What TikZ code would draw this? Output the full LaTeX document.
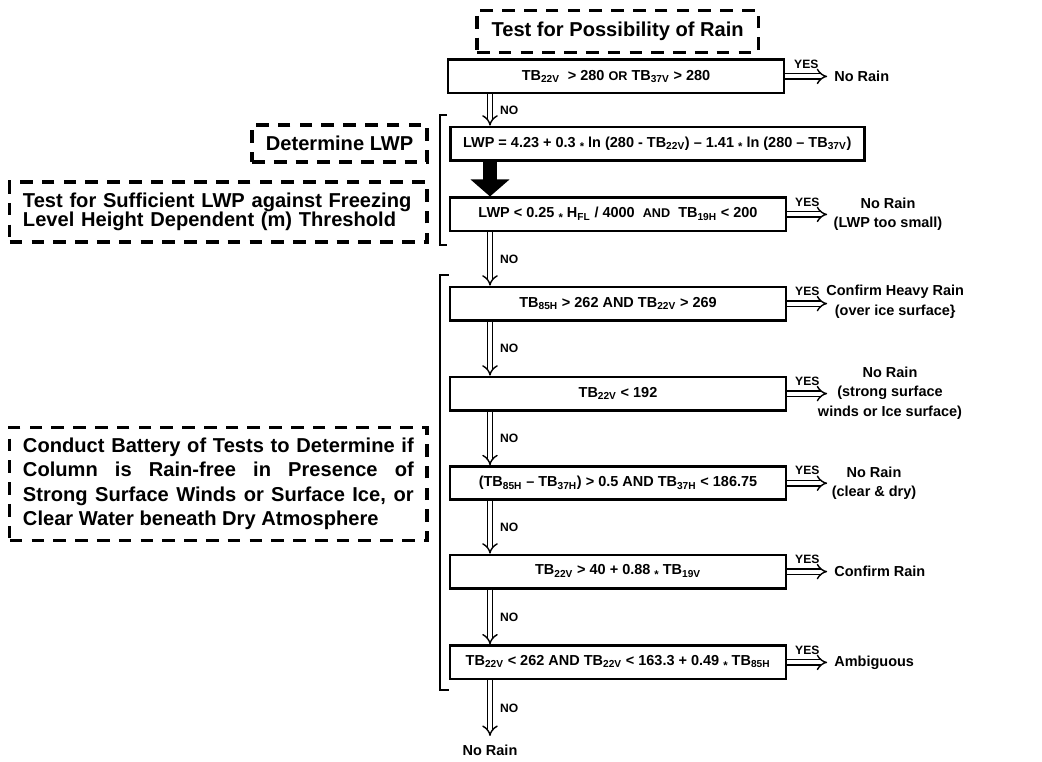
\documentclass[tikz,border=0pt]{standalone}
\usepackage{fontspec}
\setmainfont{Liberation Sans}
\usetikzlibrary{arrows.meta}
\newcommand{\mstar}{\raisebox{-0.45ex}{\footnotesize *}}

\begin{document}
\begin{tikzpicture}[font=\bfseries\fontsize{10.3}{14}\selectfont]
    \useasboundingbox (0,0) rectangle (26.05,-19.025);
    \coordinate (col) at (12.25,0);
    \coordinate (yes) at (20.68,0);

    % dashed captions
    \begin{scope}[every node/.style={draw,line width=2.3pt,dash pattern=on 9pt off 6.5pt,
        font=\bfseries\fontsize{14.3}{14}\selectfont}]
      \node[minimum width=7.03cm,minimum height=1.05cm] (title) at (15.44,-0.78) {Test for Possibility of Rain};
      \node[minimum width=4.375cm,minimum height=0.925cm] (detlwp) at (8.49,-3.59) {Determine LWP};
      \node[text width=9.77cm,inner xsep=0.33cm,minimum height=1.5cm,align=left] (suff) at (5.46,-5.3)
        {Test for Sufficient LWP against Freezing\\ Level Height Dependent (m) Threshold};
      \node[text width=9.77cm,inner xsep=0.33cm,minimum height=2.83cm,align=justify,
        font=\bfseries\fontsize{14.3}{17.4}\selectfont] (battery) at (5.46,-12.1)
        {Conduct Battery of Tests to Determine if\linebreak Column is Rain-free in Presence of\linebreak
         Strong Surface Winds or Surface Ice, or\linebreak Clear Water beneath Dry Atmosphere};
    \end{scope}

    % tests
    \begin{scope}[every node/.style={draw,line width=1.9pt,minimum width=8.4cm,minimum height=0.83cm}]
      \node (b1) at (15.4,-1.91) {TB\textsubscript{22V}\ \ > 280 {\small OR} TB\textsubscript{37V} > 280};
      \node[minimum width=10.35cm] (b2) at (16.43,-3.59)
        {LWP = 4.23 + 0.3 \mstar{} ln (280 - TB\textsubscript{22V}) -- 1.41 \mstar{} ln (280 -- TB\textsubscript{37V})};
      \node (b3) at (15.45,-5.36) {LWP < 0.25 \mstar{} H\textsubscript{FL} / 4000\ \ {\small AND}\ \ TB\textsubscript{19H} < 200};
      \node (b4) at (15.45,-7.59) {TB\textsubscript{85H} > 262 AND TB\textsubscript{22V} > 269};
      \node (b5) at (15.45,-9.84) {TB\textsubscript{22V} < 192};
      \node (b6) at (15.45,-12.08) {(TB\textsubscript{85H} -- TB\textsubscript{37H}) > 0.5 AND TB\textsubscript{37H} < 186.75};
      \node (b7) at (15.45,-14.29) {TB\textsubscript{22V} > 40 + 0.88 \mstar{} TB\textsubscript{19V}};
      \node (b8) at (15.45,-16.56) {TB\textsubscript{22V} < 262 AND TB\textsubscript{22V} < 163.3 + 0.49 \mstar{} TB\textsubscript{85H}};
    \end{scope}

    % outcomes
    \begin{scope}[every node/.style={align=center,inner sep=1.5pt}]
      \node[anchor=west] (r1) at (20.8,-1.91) {No Rain};
      \node (r3) at (22.2,-5.36) {No Rain\\(LWP too small)};
      \node (r4) at (22.38,-7.55) {Confirm Heavy Rain\\(over ice surface\}};
      \node (r5) at (22.25,-9.83) {No Rain\\(strong surface\\winds or Ice surface)};
      \node (r6) at (21.85,-12.08) {No Rain\\(clear \& dry)};
      \node[anchor=west] (r7) at (20.8,-14.29) {Confirm Rain};
      \node[anchor=west] (r8) at (20.8,-16.56) {Ambiguous};
      \node[inner ysep=6pt] (rend) at (12.25,-18.75) {No Rain};
    \end{scope}

    % brackets
    \draw[line width=2pt] (11.18,-2.875) -- (11.0,-2.875) -- (11.0,-6.125) -- (11.18,-6.125);
    \draw[line width=2pt] (11.22,-6.875) -- (11.0,-6.875) -- (11.0,-17.25) -- (11.22,-17.25);

    \draw[line width=10pt,-{Triangle[length=0.425cm,width=0.95cm]}] (b2.south -| col) -- (b3.north -| col);

    \begin{scope}[every edge/.style={draw,double,double distance=2.8pt,line width=1pt,-{Implies[scale=1.4]}},
        every node/.style={font=\bfseries\fontsize{8.6}{9}\selectfont}]
      \path (b1.south -| col) edge node[right,xshift=0.12cm] {NO} (b2.north -| col);
      \path (b3.south -| col) edge node[right,xshift=0.12cm] {NO} (b4.north -| col);
      \path (b4.south -| col) edge node[right,xshift=0.12cm] {NO} (b5.north -| col);
      \path (b5.south -| col) edge node[right,xshift=0.12cm] {NO} (b6.north -| col);
      \path (b6.south -| col) edge node[right,xshift=0.12cm] {NO} (b7.north -| col);
      \path (b7.south -| col) edge node[right,xshift=0.12cm] {NO} (b8.north -| col);
      \path (b8.south -| col) edge node[right,xshift=0.12cm] {NO} (rend);
      \path (b1.east) edge node[above=2pt] {YES} (b1.east -| yes);
      \path (b3.east) edge node[above=2pt] {YES} (b3.east -| yes);
      \path (b4.east) edge node[above=2pt] {YES} (b4.east -| yes);
      \path (b5.east) edge node[above=2pt] {YES} (b5.east -| yes);
      \path (b6.east) edge node[above=2pt] {YES} (b6.east -| yes);
      \path (b7.east) edge node[above=2pt] {YES} (b7.east -| yes);
      \path (b8.east) edge node[above=2pt] {YES} (b8.east -| yes);
    \end{scope}
  \end{tikzpicture}
\end{document}
